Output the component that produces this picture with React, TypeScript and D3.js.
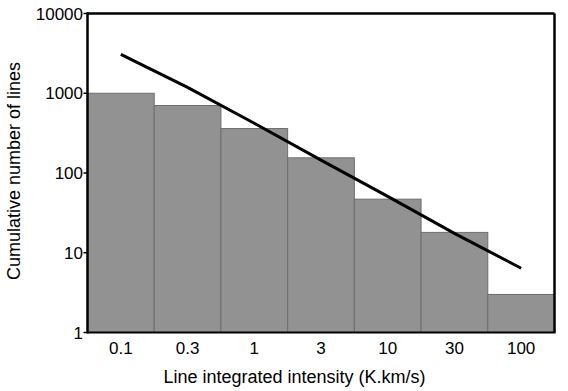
import React from "react";
import * as d3 from "d3";

const categories = ["0.1", "0.3", "1", "3", "10", "30", "100"];
const barValues = [1000, 702, 361, 155, 47, 18, 3];
const lineValues = [3070, 1186, 420, 145, 51, 17.5, 6.4];
const yTicks = [1, 10, 100, 1000, 10000];

const W = 568;
const H = 391;
const m = { left: 87.5, right: 554.5, top: 13.5, bottom: 332.5 };

export default function App() {
  const x = d3.scaleBand<string>().domain(categories).range([m.left, m.right]).padding(0);
  const y = d3.scaleLog().domain([1, 10000]).range([m.bottom, m.top]);
  const line = d3
    .line<number>()
    .x((_, i) => (x(categories[i]) as number) + x.bandwidth() / 2)
    .y((d) => y(d));
  const font = "'Liberation Sans', Arial, sans-serif";
  return (
    <svg
      width={W}
      height={H}
      style={{ position: "absolute", left: 0, top: 0, background: "#fff" }}
      fontFamily={font}
    >
      {barValues.map((v, i) => (
        <rect
          key={i}
          x={x(categories[i]) as number}
          y={y(v)}
          width={x.bandwidth()}
          height={m.bottom - y(v)}
          fill="#929292"
          stroke="#6e6e6e"
          strokeWidth={1}
        />
      ))}
      <path d={line(lineValues) || ""} fill="none" stroke="#000" strokeWidth={3} />
      {/* frame */}
      <line x1={m.left} x2={m.right} y1={m.top} y2={m.top} stroke="#000" strokeWidth={2.5} />
      <line x1={m.right} x2={m.right} y1={m.top} y2={m.bottom} stroke="#000" strokeWidth={2.5} />
      <line x1={m.left} x2={m.left} y1={m.top - 1.2} y2={m.bottom + 1} stroke="#000" strokeWidth={2.5} />
      <line x1={m.left} x2={m.right + 1} y1={m.bottom} y2={m.bottom} stroke="#000" strokeWidth={2} />
      {yTicks.map((t) => (
        <g key={t}>
          <line x1={m.left - 4} x2={m.left} y1={y(t)} y2={y(t)} stroke="#000" strokeWidth={1.5} />
          <text
            x={m.left - 4.5}
            y={y(t)}
            dy="0.36em"
            textAnchor="end"
            fontSize={17}
            fill="#000"
          >
            {t}
          </text>
        </g>
      ))}
      {categories.map((c) => (
        <text
          key={c}
          x={(x(c) as number) + x.bandwidth() / 2}
          y={353.5}
          textAnchor="middle"
          fontSize={17}
          fill="#000"
        >
          {c}
        </text>
      ))}
      <text x={294.5} y={383.3} textAnchor="middle" fontSize={18} fill="#000">
        Line integrated intensity (K.km/s)
      </text>
      <text
        transform={`translate(19.5, 171) rotate(-90)`}
        textAnchor="middle"
        fontSize={18}
        fill="#000"
      >
        Cumulative number of lines
      </text>
    </svg>
  );
}
